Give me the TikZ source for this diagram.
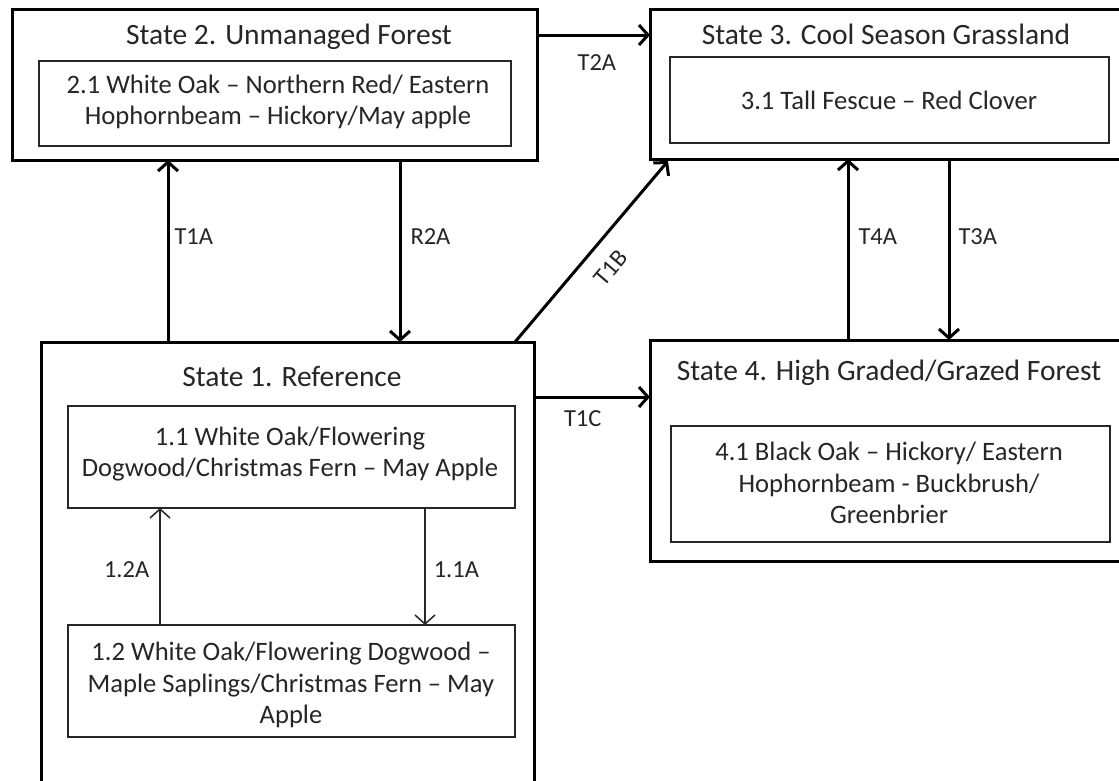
\documentclass[tikz,border=0pt]{standalone}
\usepackage{fontspec}
\setmainfont{Carlito}
\usetikzlibrary{arrows.meta,calc}
\begin{document}
\begin{tikzpicture}[x=1pt,y=-1pt,
  outer/.style={draw=black, line width=3pt, minimum width=#1, anchor=north west, inner sep=0pt, outer sep=0pt},
  inner/.style={draw=black!85, line width=1.8pt, anchor=north west, inner sep=0pt, outer sep=0pt},
  ttl/.style={text=black!85, font=\fontsize{29.5}{35}\selectfont, inner sep=0pt},
  txt/.style={text=black!85, font=\fontsize{26.6}{31.5}\selectfont, align=center, inner sep=0pt},
  lbl/.style={text=black!85, font=\fontsize{24.5}{28}\selectfont, inner sep=0pt},
  arr/.style={line width=3pt, -{Straight Barb[length=9pt,width=20pt]}},
  thinarr/.style={line width=1.5pt, draw=black!85, -{Straight Barb[length=9pt,width=20pt]}}
]
\useasboundingbox (0,0) rectangle (1119,780);
\clip (0,0) rectangle (1119,780);
\fill[white] (0,0) rectangle (1119,780);

% outer state boxes
\node[outer=525pt, minimum height=151pt] (s2) at (12,9) {};
\node[outer=480pt, minimum height=150pt] (s3) at (650,9) {};
\node[outer=493pt, minimum height=460pt] (s1) at (41,342) {};
\node[outer=480pt, minimum height=221pt] (s4) at (650,340) {};

% inner community boxes
\node[inner, minimum width=472pt, minimum height=85pt] (i2) at (39,61) {};
\node[inner, minimum width=439pt, minimum height=86pt] (i3) at (670,57) {};
\node[inner, minimum width=447pt, minimum height=102pt] (i11) at (68,406) {};
\node[inner, minimum width=447pt, minimum height=112pt] (i12) at (68,625) {};
\node[inner, minimum width=439pt, minimum height=116pt] (i4) at (671,426) {};

% titles
\node[ttl] (t2) at (289,37) {State 2. Unmanaged Forest};
\node[ttl] (t3) at (886,34) {State 3. Cool Season Grassland};
\node[ttl] (t1) at (292,376) {State 1. Reference};
\node[ttl] (t4) at (889,373) {State 4. High Graded/Grazed Forest};

% community texts
\node[txt] (c2) at (278,102) {2.1 White Oak – Northern Red/ Eastern\\Hophornbeam – Hickory/May apple};
\node[txt] (c3) at (889,100) {3.1 Tall Fescue – Red Clover};
\node[txt] (c11) at (290,454) {1.1 White Oak/Flowering\\Dogwood/Christmas Fern – May Apple};
\node[txt] (c12) at (291,685) {1.2 White Oak/Flowering Dogwood –\\Maple Saplings/Christmas Fern – May\\Apple};
\node[txt] (c4) at (889,483) {4.1 Black Oak – Hickory/ Eastern\\Hophornbeam - Buckbrush/\\Greenbrier};

% x / y guides for connectors
\coordinate (xT1A) at (168,0);
\coordinate (xR2A) at (400,0);
\coordinate (xT1B) at (515,0);
\coordinate (xT4A) at (848,0);
\coordinate (xT3A) at (949,0);
\coordinate (yT2A) at (0,35);
\coordinate (yT1C) at (0,397);
\coordinate (x12A) at (160,0);
\coordinate (x11A) at (425,0);
\coordinate (t1bend) at (668,161);

% transitions
\draw[arr] (s1.north -| xT1A) -- node[lbl, pos=0.58, right=5pt] (lT1A) {T1A} (s2.south -| xT1A);
\draw[arr] (s2.south -| xR2A) -- node[lbl, pos=0.42, right=9pt] (lR2A) {R2A} (s1.north -| xR2A);
\draw[arr] (s2.east |- yT2A) -- node[lbl, pos=0.53, below=18pt] (lT2A) {T2A} (s3.west |- yT2A);
\draw[arr] (s1.north -| xT1B) -- node[lbl, pos=0.5, sloped, below=16pt] (lT1B) {T1B} (t1bend);
\draw[arr] (s1.east |- yT1C) -- node[lbl, pos=0.42, below=12pt] (lT1C) {T1C} (s4.west |- yT1C);
\draw[arr] (s4.north -| xT4A) -- node[lbl, pos=0.57, right=9pt] (lT4A) {T4A} (s3.south -| xT4A);
\draw[arr] (s3.south -| xT3A) -- node[lbl, pos=0.43, right=8pt] (lT3A) {T3A} (s4.north -| xT3A);

% community pathways
\draw[thinarr] (i12.north -| x12A) -- node[lbl, pos=0.47, left=10pt] (l12A) {1.2A} (i11.south -| x12A);
\draw[thinarr] (i11.south -| x11A) -- node[lbl, pos=0.525, right=8pt] (l11A) {1.1A} (i12.north -| x11A);
\end{tikzpicture}
\end{document}
